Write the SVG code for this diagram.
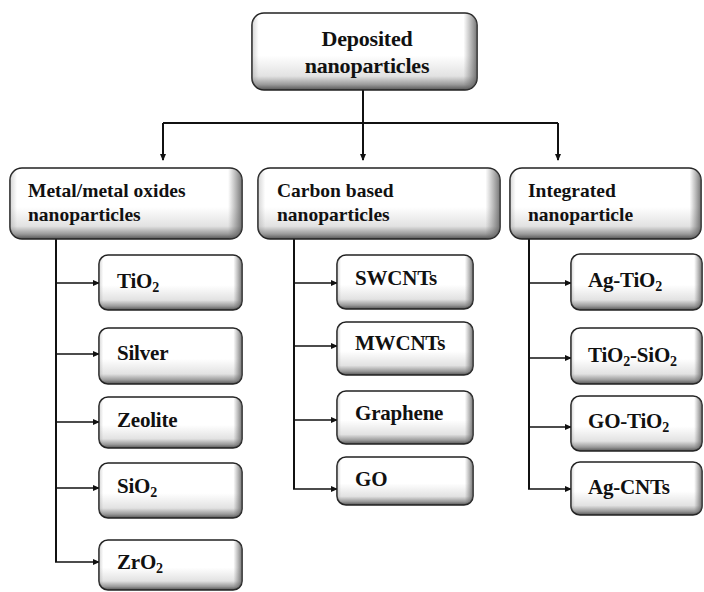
<svg xmlns="http://www.w3.org/2000/svg" width="704" height="592" viewBox="0 0 704 592">
<defs>
<linearGradient id="gv" x1="0" y1="0" x2="0" y2="1">
<stop offset="0" stop-color="#ffffff"/>
<stop offset="0.55" stop-color="#ffffff"/>
<stop offset="0.82" stop-color="#e2e2e2"/>
<stop offset="0.93" stop-color="#9a9a9a"/>
<stop offset="1" stop-color="#555555"/>
</linearGradient>
<linearGradient id="gh" x1="0" y1="0" x2="1" y2="0">
<stop offset="0" stop-color="#888" stop-opacity="0.35"/>
<stop offset="0.03" stop-color="#888" stop-opacity="0"/>
<stop offset="0.94" stop-color="#666" stop-opacity="0"/>
<stop offset="1" stop-color="#555" stop-opacity="0.8"/>
</linearGradient>
<marker id="ah" viewBox="0 0 8 8" refX="7" refY="4" markerWidth="7" markerHeight="7" markerUnits="userSpaceOnUse" orient="auto">
<path d="M0,0.5 L8,4 L0,7.5 z" fill="#111"/>
</marker>
</defs>
<style>
.box{fill:url(#gv);stroke:#222;stroke-width:1.6}
.sh{fill:url(#gh);stroke:none}
text{font-family:'Liberation Serif','DejaVu Serif',serif;font-weight:bold;fill:#111}
.t{font-size:19.5px}
.k{font-size:21px;letter-spacing:-0.2px}
.tt{font-size:22px;letter-spacing:-0.2px}
.c{fill:none;stroke:#111;stroke-width:2}
.cs{fill:none;stroke:#111;stroke-width:1.6}
</style>
<g id="connectors">
<path class="c" d="M363 90 V123 M163 123 H558"/>
<path class="c" d="M163 123 V160" marker-end="url(#ah)"/>
<path class="c" d="M363 123 V160" marker-end="url(#ah)"/>
<path class="c" d="M558 123 V160" marker-end="url(#ah)" stroke-width="2.6"/>
<path class="c" d="M56 239 V562"/>
<path class="cs" d="M56 283 H99" marker-end="url(#ah)"/>
<path class="cs" d="M56 354 H99" marker-end="url(#ah)"/>
<path class="cs" d="M56 422 H99" marker-end="url(#ah)"/>
<path class="cs" d="M56 488 H99" marker-end="url(#ah)"/>
<path class="cs" d="M55 562 H99" marker-end="url(#ah)"/>
<path class="c" d="M294 239 V489"/>
<path class="cs" d="M294 283 H337" marker-end="url(#ah)"/>
<path class="cs" d="M294 346 H337" marker-end="url(#ah)"/>
<path class="cs" d="M294 420 H337" marker-end="url(#ah)"/>
<path class="cs" d="M293 489 H337" marker-end="url(#ah)"/>
<path class="c" d="M529 239 V489"/>
<path class="cs" d="M529 283 H571" marker-end="url(#ah)"/>
<path class="cs" d="M529 358 H571" marker-end="url(#ah)"/>
<path class="cs" d="M529 427 H571" marker-end="url(#ah)"/>
<path class="cs" d="M528 489 H571" marker-end="url(#ah)"/>
</g>
<g id="n-root">
<rect class="box" x="252" y="13" width="225" height="77" rx="12"/>
<rect class="sh" x="252" y="13" width="225" height="77" rx="12"/>
<text class="tt" x="367" y="46" text-anchor="middle">Deposited</text>
<text class="tt" x="367" y="73" text-anchor="middle">nanoparticles</text>
</g>
<g id="n-metal">
<rect class="box" x="10" y="168" width="232" height="71" rx="12"/>
<rect class="sh" x="10" y="168" width="232" height="71" rx="12"/>
<text class="t" x="28" y="197">Metal/metal oxides</text>
<text class="t" x="28" y="221">nanoparticles</text>
</g>
<g id="n-carbon">
<rect class="box" x="258" y="168" width="242" height="71" rx="12"/>
<rect class="sh" x="258" y="168" width="242" height="71" rx="12"/>
<text class="t" x="277" y="197">Carbon based</text>
<text class="t" x="277" y="221">nanoparticles</text>
</g>
<g id="n-integrated">
<rect class="box" x="510" y="168" width="191" height="71" rx="12"/>
<rect class="sh" x="510" y="168" width="191" height="71" rx="12"/>
<text class="t" x="528" y="197">Integrated</text>
<text class="t" x="528" y="221">nanoparticle</text>
</g>
<g id="n-tio2">
<rect class="box" x="99" y="255" width="143" height="55" rx="9"/>
<rect class="sh" x="99" y="255" width="143" height="55" rx="9"/>
<text class="k" x="117" y="288">TiO<tspan font-size="14" dy="4">2</tspan></text>
</g>
<g id="n-silver">
<rect class="box" x="99" y="328" width="143" height="56" rx="9"/>
<rect class="sh" x="99" y="328" width="143" height="56" rx="9"/>
<text class="k" x="117" y="360">Silver</text>
</g>
<g id="n-zeolite">
<rect class="box" x="99" y="397" width="143" height="51" rx="9"/>
<rect class="sh" x="99" y="397" width="143" height="51" rx="9"/>
<text class="k" x="117" y="427">Zeolite</text>
</g>
<g id="n-sio2">
<rect class="box" x="99" y="463" width="143" height="55" rx="9"/>
<rect class="sh" x="99" y="463" width="143" height="55" rx="9"/>
<text class="k" x="117" y="493">SiO<tspan font-size="14" dy="4">2</tspan></text>
</g>
<g id="n-zro2">
<rect class="box" x="99" y="540" width="143" height="50" rx="9"/>
<rect class="sh" x="99" y="540" width="143" height="50" rx="9"/>
<text class="k" x="117" y="569">ZrO<tspan font-size="14" dy="4">2</tspan></text>
</g>
<g id="n-swcnts">
<rect class="box" x="337" y="255" width="136" height="54" rx="9"/>
<rect class="sh" x="337" y="255" width="136" height="54" rx="9"/>
<text class="k" x="355" y="285">SWCNTs</text>
</g>
<g id="n-mwcnts">
<rect class="box" x="337" y="322" width="136" height="53" rx="9"/>
<rect class="sh" x="337" y="322" width="136" height="53" rx="9"/>
<text class="k" x="355" y="350">MWCNTs</text>
</g>
<g id="n-graphene">
<rect class="box" x="337" y="391" width="136" height="53" rx="9"/>
<rect class="sh" x="337" y="391" width="136" height="53" rx="9"/>
<text class="k" x="355" y="420">Graphene</text>
</g>
<g id="n-go">
<rect class="box" x="337" y="457" width="136" height="48" rx="9"/>
<rect class="sh" x="337" y="457" width="136" height="48" rx="9"/>
<text class="k" x="355" y="486">GO</text>
</g>
<g id="n-agtio2">
<rect class="box" x="571" y="254" width="131" height="56" rx="9"/>
<rect class="sh" x="571" y="254" width="131" height="56" rx="9"/>
<text class="k" x="588" y="287">Ag-TiO<tspan font-size="14" dy="4">2</tspan></text>
</g>
<g id="n-tio2sio2">
<rect class="box" x="571" y="328" width="131" height="56" rx="9"/>
<rect class="sh" x="571" y="328" width="131" height="56" rx="9"/>
<text class="k" x="588" y="362">TiO<tspan font-size="14" dy="4">2</tspan><tspan dy="-4">-SiO</tspan><tspan font-size="14" dy="4">2</tspan></text>
</g>
<g id="n-gotio2">
<rect class="box" x="571" y="396" width="131" height="55" rx="9"/>
<rect class="sh" x="571" y="396" width="131" height="55" rx="9"/>
<text class="k" x="588" y="428">GO-TiO<tspan font-size="14" dy="4">2</tspan></text>
</g>
<g id="n-agcnts">
<rect class="box" x="571" y="462" width="131" height="53" rx="9"/>
<rect class="sh" x="571" y="462" width="131" height="53" rx="9"/>
<text class="k" x="588" y="494">Ag-CNTs</text>
</g>
</svg>
